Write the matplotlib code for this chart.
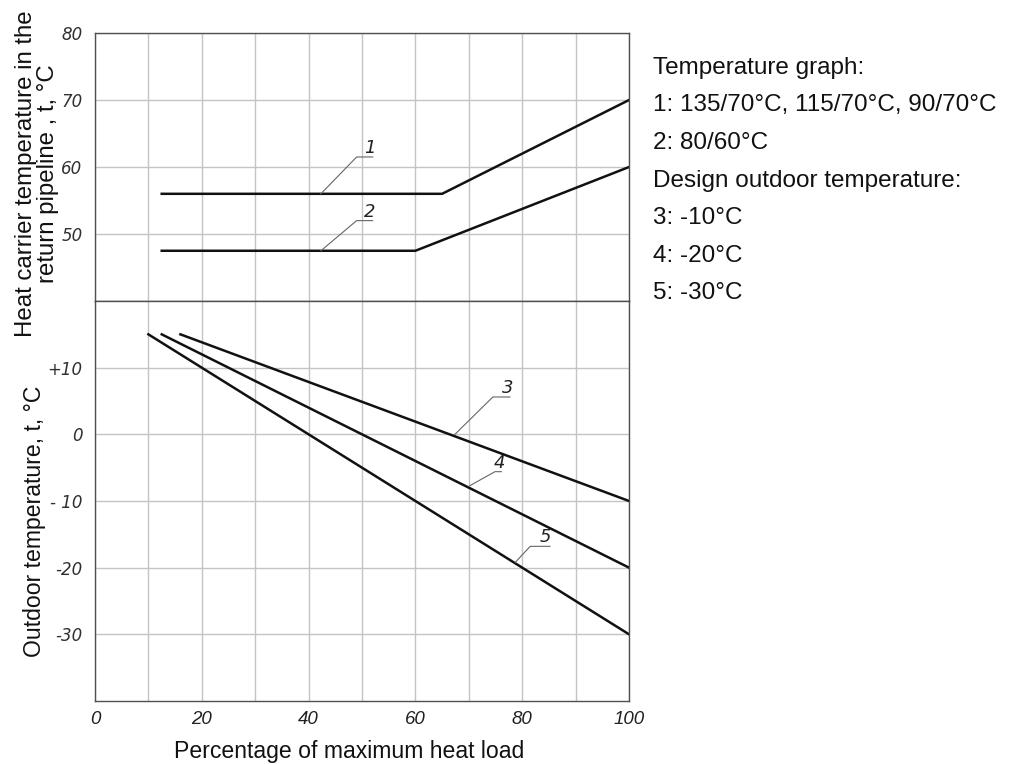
import matplotlib
matplotlib.use("Agg")
import matplotlib.pyplot as plt

# ---- data ----
# return pipeline temperature (top panel)
load_1 = [12.5, 65, 100]
temp_1 = [56, 56, 70]
load_2 = [12.5, 60, 100]
temp_2 = [47.5, 47.5, 60]

# outdoor temperature (bottom panel)
load_3 = [16, 100]
temp_3 = [15, -10]
load_4 = [12.5, 100]
temp_4 = [15, -20]
load_5 = [10, 100]
temp_5 = [15, -30]

# leader lines: (start on curve, knee, end of shelf, label x)
leaders_top = {
    "1": [(42.3, 56), (49, 61.5), (52, 61.5), 51.4],
    "2": [(42.3, 47.5), (49, 52), (52, 52), 51.4],
}
leaders_bot = {
    "3": [(67.4, 0), (74.5, 5.6), (77.7, 5.6), 77.2],
    "4": [(70.2, -7.7), (74.9, -5.6), (76.1, -5.6), 75.7],
    "5": [(78.7, -19.2), (81.5, -16.8), (85.2, -16.8), 84.4],
}

xticks = [0, 20, 40, 60, 80, 100]
top_ticks = [50, 60, 70, 80]
bot_ticks = [10, 0, -10, -20, -30]
bot_labels = ["+10", "0", "- 10", "-20", "-30"]

legend_lines = ["Temperature graph:",
                "1: 135/70°C, 115/70°C, 90/70°C",
                "2: 80/60°C",
                "Design outdoor temperature:",
                "3: -10°C",
                "4: -20°C",
                "5: -30°C"]

plt.rcParams["font.family"] = ["Liberation Sans", "DejaVu Sans"]

frame_col = "#505050"
grid_col = "#c4c4c4"
ytick_font = dict(family="DejaVu Sans", style="italic", size=12, color="#303030")
xtick_font = dict(family="Liberation Sans", style="italic", size=13.5,
                  color="#202020")

fig = plt.figure(figsize=(10.19, 7.64), dpi=100)
ax_t = fig.add_axes([0.0932, 0.606, 0.5241, 0.3508])
ax_b = fig.add_axes([0.0932, 0.0825, 0.5241, 0.5235])

for ax in (ax_t, ax_b):
    ax.set_xlim(0, 100)
    ax.set_xticks(range(0, 101, 10))
    ax.tick_params(length=0, pad=9)
    for s in ax.spines.values():
        s.set_color(frame_col)
        s.set_linewidth(1.0)
    ax.grid(True, color=grid_col, linewidth=1.0)
    ax.set_axisbelow(True)

# top panel
ax_t.set_ylim(40, 80)
ax_t.set_yticks([40] + top_ticks)
ax_t.set_yticklabels([""] + [str(t) for t in top_ticks], **ytick_font)
ax_t.set_xticklabels([])
ax_t.plot(load_1, temp_1, color="#111111", lw=1.8)
ax_t.plot(load_2, temp_2, color="#111111", lw=1.8)

# bottom panel
ax_b.set_ylim(-40, 20)
ax_b.set_yticks(bot_ticks)
ax_b.set_yticklabels(bot_labels, **ytick_font)
ax_b.set_xticklabels([str(t) if t in xticks else "" for t in range(0, 101, 10)],
                     **xtick_font)
ax_b.tick_params(axis="x", pad=7)
ax_b.plot(load_3, temp_3, color="#111111", lw=1.8)
ax_b.plot(load_4, temp_4, color="#111111", lw=1.8)
ax_b.plot(load_5, temp_5, color="#111111", lw=1.8)

for ax, leaders in ((ax_t, leaders_top), (ax_b, leaders_bot)):
    for lab, pts in leaders.items():
        xs = [p[0] for p in pts[:3]]
        ys = [p[1] for p in pts[:3]]
        ax.plot(xs, ys, color="#666666", lw=0.8)
        ax.annotate(lab, (pts[3], ys[-1]), xytext=(0, 0),
                    textcoords="offset points", ha="center", va="bottom",
                    family="DejaVu Sans", style="italic", size=13,
                    color="#222222")

ax_b.set_xlabel("Percentage of maximum heat load", fontsize=16.6,
                color="#111111")
ax_b.xaxis.set_label_coords(0.4757, -0.098)
fig.text(0.036, 0.773, "Heat carrier temperature in the\nreturn pipeline , t, °C",
         rotation=90, ha="center", va="center", fontsize=17.3, color="#111111",
         linespacing=0.98)
fig.text(0.034, 0.318, "Outdoor temperature, t, °C", rotation=90,
         ha="center", va="center", fontsize=16.6, color="#111111")

y0 = 1 - 68 / 764
for i, line in enumerate(legend_lines):
    fig.text(0.641, y0 - i * 37.5 / 764, line, fontsize=17.5, color="#111111",
             va="center")

fig.savefig("out.png", dpi=100)
